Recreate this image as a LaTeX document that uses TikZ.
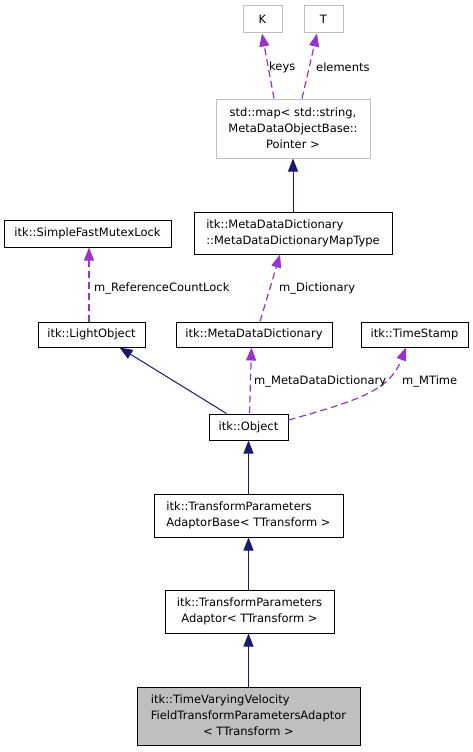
\documentclass[tikz,border=0pt]{standalone}
\usepackage{fontspec}
\setmainfont{DejaVu Sans}
\usetikzlibrary{arrows.meta}
\definecolor{navy}{HTML}{191970}
\definecolor{purp}{HTML}{9A32CD}
\definecolor{lgray}{HTML}{BFBFBF}
\newcommand{\gf}{\fontsize{11.5}{16}\selectfont}

\begin{document}
\begin{tikzpicture}[x=1pt,y=-1pt,
  box/.style={draw=black,line width=1pt,inner sep=1pt,font=\gf,align=center},
  gbox/.style={box,draw=lgray},
  inh/.style={draw=navy,line width=1pt,-{Triangle[length=13pt,width=10pt]}},
  use/.style={draw=purp,line width=1.2pt,dash pattern=on 7pt off 4pt,-{Triangle[length=13pt,width=10pt]}},
  lbl/.style={font=\gf,anchor=west,inner sep=0pt}]
  \useasboundingbox (0,0) rectangle (473,752);
  % classes
  \node[gbox,minimum width= 39,minimum height=27] (k)       at (262.5, 19.5) {K};
  \node[gbox,minimum width= 39,minimum height=27] (t)       at (323.5, 19.5) {T};
  \node[gbox,minimum width=154,minimum height=59] (map)     at (293.0,128.5) {std::map< std::string,\\MetaDataObjectBase::\\Pointer >};
  \node[box, minimum width=198,minimum height=42,align=left] (maptype) at (293.0,233.0) {itk::MetaDataDictionary\\::MetaDataDictionaryMapType};
  \node[box, minimum width=167,minimum height=27] (mutex)   at ( 87.5,233.5) {itk::SimpleFastMutexLock};
  \node[box, minimum width=107,minimum height=25] (light)   at ( 91.5,334.5) {itk::LightObject};
  \node[box, minimum width=156,minimum height=25] (mdd)     at (254.0,334.5) {itk::MetaDataDictionary};
  \node[box, minimum width=107,minimum height=25] (stamp)   at (414.5,334.5) {itk::TimeStamp};
  \node[box, minimum width= 79,minimum height=26] (object)  at (248.5,427.0) {itk::Object};
  \node[box, minimum width=189,minimum height=43,align=left] (base) at (248.5,515.5) {itk::TransformParameters\\AdaptorBase< TTransform >};
  \node[box, minimum width=169,minimum height=43] (adaptor) at (249.5,611.5) {itk::TransformParameters\\Adaptor< TTransform >};
  \node[box, minimum width=223,minimum height=58,fill=lgray] (tv) at (248.5,716.0)
    {\begin{tabular}{@{}l@{}}itk::TimeVaryingVelocity\\FieldTransformParametersAdaptor\\\multicolumn{1}{@{}c@{}}{< TTransform >}\end{tabular}};
  % inheritance
  \draw[inh] (maptype) -- (map);
  \draw[inh] ([xshift=-22]object.north) -- ([xshift=28]light.south);
  \draw[inh] (base)    -- (object);
  \draw[inh] (base |- adaptor.north) -- (base.south);
  \draw[inh] (tv.north) -- (tv |- adaptor.south);
  % members
  \draw[use] ([xshift=-19]map.north)    -- ([xshift=-0.5]k.south);
  \draw[use] ([xshift=  9]map.north)    -- ([xshift=-6.5]t.south);
  \draw[use] ([xshift=-2.5]light.north) -- ([xshift=1.5]mutex.south);
  \draw[use] ([xshift=  6]mdd.north)    -- ([xshift=-13]maptype.south);
  \draw[use] ([xshift=1]object.north)   -- ([xshift=-2.5]mdd.south);
  \draw[use] ([yshift=7]object.east) .. controls (360,400) and (390,390) .. ([xshift=-8.5]stamp.south);
  \node[lbl] (lkeys) at (269, 67) {keys};
  \node[lbl] (lelem) at (316, 67) {elements};
  \node[lbl] (lref)  at ( 94,288) {m\_ReferenceCountLock};
  \node[lbl] (ldict) at (279,288) {m\_Dictionary};
  \node[lbl] (lmdd)  at (254,381) {m\_MetaDataDictionary};
  \node[lbl] (lmt)   at (402,381) {m\_MTime};
\end{tikzpicture}
\end{document}
